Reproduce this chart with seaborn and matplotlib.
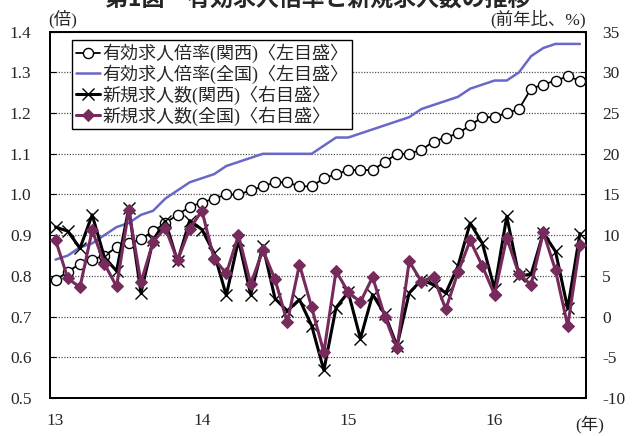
import matplotlib
matplotlib.use("Agg")
import matplotlib.pyplot as plt
import seaborn as sns
import numpy as np
import pandas as pd

# ---- data (monthly, Jan 2013 - Aug 2016) ----
year_labels = ["13", "14", "15", "16"]

kansai_ratio = [0.79, 0.81, 0.83, 0.84, 0.85, 0.87, 0.88, 0.89, 0.91, 0.93, 0.95, 0.97,
                0.98, 0.99, 1.00, 1.00, 1.01, 1.02, 1.03, 1.03, 1.02, 1.02, 1.04, 1.05,
                1.06, 1.06, 1.06, 1.08, 1.10, 1.10, 1.11, 1.13, 1.14, 1.15, 1.17, 1.19,
                1.19, 1.20, 1.21, 1.26, 1.27, 1.28, 1.29, 1.28]

national_ratio = [0.84, 0.85, 0.87, 0.88, 0.90, 0.92, 0.93, 0.95, 0.96, 0.99, 1.01, 1.03,
                  1.04, 1.05, 1.07, 1.08, 1.09, 1.10, 1.10, 1.10, 1.10, 1.10, 1.12, 1.14,
                  1.14, 1.15, 1.16, 1.17, 1.18, 1.19, 1.21, 1.22, 1.23, 1.24, 1.26, 1.27,
                  1.28, 1.28, 1.30, 1.34, 1.36, 1.37, 1.37, 1.37]

kansai_new = [11.0, 10.5, 8.4, 12.5, 7.3, 5.6, 13.3, 2.9, 9.4, 11.7, 6.8, 11.8,
              10.7, 7.8, 2.6, 9.4, 2.7, 8.7, 2.2, 0.7, 2.1, -1.1, -6.6, 1.1,
              3.0, -2.7, 2.7, 0.3, -3.6, 2.9, 4.5, 3.9, 2.9, 6.2, 11.5, 9.0,
              3.4, 12.3, 5.0, 5.2, 10.3, 8.0, 1.0, 10.2]

national_new = [9.4, 4.7, 3.6, 10.6, 6.5, 3.7, 13.05, 4.2, 9.2, 10.9, 6.9, 10.8,
                13.0, 7.1, 5.3, 10.0, 4.0, 8.15, 4.56, -0.7, 6.4, 1.15, -4.4, 5.6,
                3.0, 1.8, 4.85, 0.0, -3.9, 6.8, 4.3, 4.9, 0.9, 5.45, 9.35, 6.2,
                2.7, 9.7, 5.2, 3.9, 10.35, 5.7, -1.15, 8.85]

labels = ["有効求人倍率(関西)〈左目盛〉",
          "有効求人倍率(全国)〈左目盛〉",
          "新規求人数(関西)〈右目盛〉",
          "新規求人数(全国)〈右目盛〉"]

month_idx = np.arange(len(kansai_ratio))
df = pd.DataFrame({"m": month_idx, "kr": kansai_ratio, "nr": national_ratio,
                   "kn": kansai_new, "nn": national_new})

# ---- style ----
sns.set_style("white")
plt.rcParams["font.family"] = ["Liberation Serif", "Noto Sans CJK JP"]
plt.rcParams["axes.unicode_minus"] = False

fig = plt.figure(figsize=(6.35, 4.36), dpi=100)
ax = fig.add_axes([49.5/635, 1-398/436, (586-49.5)/635, (398-31.7)/436])
ax2 = ax.twinx()

blue = "#6868C8"
purple = "#772A5C"

sns.lineplot(data=df, x="m", y="kr", ax=ax, color="black", linewidth=1.3,
             marker="o", markersize=7.3, markerfacecolor="white",
             markeredgecolor="black", markeredgewidth=1.0, zorder=4)
sns.lineplot(data=df, x="m", y="nr", ax=ax, color=blue, linewidth=1.8, zorder=3)
sns.lineplot(data=df, x="m", y="kn", ax=ax2, color="black", linewidth=2.2,
             marker="x", markersize=8, markeredgecolor="black",
             markeredgewidth=1.0, zorder=3)
sns.lineplot(data=df, x="m", y="nn", ax=ax2, color=purple, linewidth=2.2,
             marker="D", markersize=6.5, markerfacecolor=purple,
             markeredgecolor=purple, zorder=4)

# axes limits / ticks
ax.set_xlim(-0.5, len(month_idx) - 0.5)
ax.set_ylim(0.5, 1.4)
ax2.set_ylim(-10, 35)
ax.set_yticks(np.round(np.arange(0.5, 1.41, 0.1), 1))
ax.set_yticklabels([f"{v:.1f}" for v in np.arange(0.5, 1.41, 0.1)])
ax2.set_yticks(np.arange(-10, 36, 5))
ax.set_xticks([0, 12, 24, 36])
ax.set_xticklabels(year_labels)
ax.set_xticks([11.5, 23.5, 35.5], minor=True)
ax.set_xlabel("")
ax.set_ylabel("")
ax2.set_ylabel("")

ax.tick_params(axis="x", which="major", length=0, pad=11, labelsize=12.5)
ax.tick_params(axis="x", which="minor", length=4, direction="in", width=1, color="black")
ax.tick_params(axis="y", length=4, direction="in", pad=13, labelsize=12.5, color="black")
ax2.tick_params(axis="y", length=4, direction="in", pad=11.5, labelsize=12.5, color="black")

ax.yaxis.grid(True, linestyle=(0, (1, 1.2)), color="#555555", linewidth=0.9)
ax.xaxis.grid(False)
ax.set_axisbelow(True)

for a in (ax, ax2):
    for s in a.spines.values():
        s.set_color("black")
        s.set_linewidth(1.3)

# legend
handles = ax.get_lines()[:2] + ax2.get_lines()[:2]
leg = ax2.legend(handles, labels, loc="upper left",
                 bbox_to_anchor=((72-49.5)/536.5, (398-40)/366.3),
                 borderaxespad=0, frameon=True, fancybox=False, framealpha=1,
                 edgecolor="black", fontsize=13, handlelength=1.35,
                 handletextpad=0.15, labelspacing=0.08, borderpad=0.2)
leg.get_frame().set_linewidth(1.0)
leg.set_zorder(10)

# texts
fig.text(0.5, 1 - 7/436, "第1図　有効求人倍率と新規求人数の推移", ha="center",
         va="baseline", fontsize=16.5, fontweight="bold",
         family=["Noto Sans CJK JP"])
fig.text(48/635, 1 - 19/436, "(倍)", ha="left", va="center", fontsize=12.5)
fig.text(586/635, 1 - 19/436, "(前年比、%)", ha="right", va="center", fontsize=12.5)
fig.text(590/635, 1 - 424/436, "(年)", ha="center", va="center", fontsize=12.5)

fig.savefig("out.png", dpi=100)
